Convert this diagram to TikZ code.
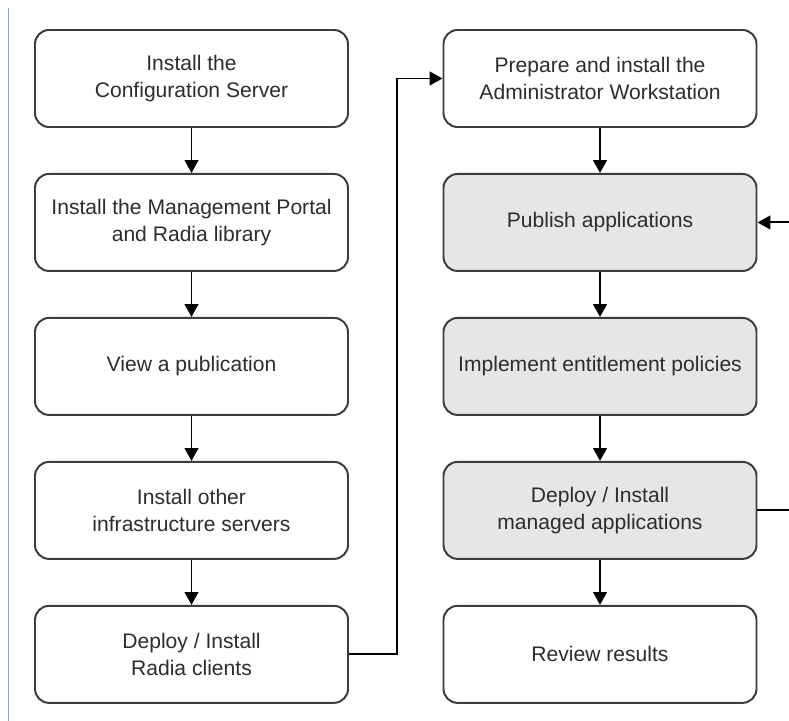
\documentclass[tikz,border=0pt]{standalone}
\usepackage{fontspec}
\setmainfont{Liberation Sans}
\usetikzlibrary{arrows.meta, positioning, calc}
\definecolor{boxedge}{RGB}{60,60,60}
\definecolor{boxgrey}{RGB}{230,230,230}
\definecolor{textgrey}{RGB}{45,45,45}
\definecolor{marginblue}{RGB}{150,164,196}
\tikzset{
  stage/.style={draw=boxedge, line width=1.4pt, rounded corners=10pt, fill=white,
                minimum width=7.825cm, minimum height=2.425cm, align=center,
                text=textgrey, font=\fontsize{15}{19}\selectfont},
  stagehi/.style={stage, fill=boxgrey},
  arrow/.style={-{Triangle[length=3.2mm, width=3.4mm]}, line width=1.4pt, black},
  link/.style={line width=1.4pt, black},
}

\begin{document}
\begin{tikzpicture}[node distance=1.125cm]
  \useasboundingbox[fill=white] (0,0) rectangle (19.725,-18.025);
  \draw[marginblue, line width=1.4pt] (0.2125,-0.2) -- (0.2125,-18.025);

  % left column
  \node[stage] (l1) at (4.7875,-1.9625) {Install the\\Configuration Server};
  \node[stage, below=of l1] (l2) {Install the Management Portal\\and Radia library};
  \node[stage, below=of l2] (l3) {View a publication};
  \node[stage, below=of l3] (l4) {Install other\\infrastructure servers};
  \node[stage, below=of l4] (l5) {Deploy / Install\\Radia clients};

  % right column
  \node[stage] (r1) at (15.0,-1.9625) {Prepare and install the\\Administrator Workstation};
  \node[stagehi, below=of r1] (r2) {Publish applications};
  \node[stagehi, below=of r2] (r3) {Implement entitlement policies};
  \node[stagehi, below=of r3] (r4) {Deploy / Install\\managed applications};
  \node[stage, below=of r4] (r5) {Review results};

  \coordinate (rim) at (19.725,0);

  \draw[arrow] (l1) -- (l2);
  \draw[arrow] (l2) -- (l3);
  \draw[arrow] (l3) -- (l4);
  \draw[arrow] (l4) -- (l5);
  \draw[arrow] (l5.east) -- ++(1.2,0) |- (r1.west);

  \draw[arrow] (r1) -- (r2);
  \draw[arrow] (r2) -- (r3);
  \draw[arrow] (r3) -- (r4);
  \draw[arrow] (r4) -- (r5);

  % loop back, leaves the picture on the right
  \draw[link] (r4.east) -- (r4.east -| rim);
  \draw[arrow] (r2.east -| rim) -- (r2.east);
\end{tikzpicture}
\end{document}
